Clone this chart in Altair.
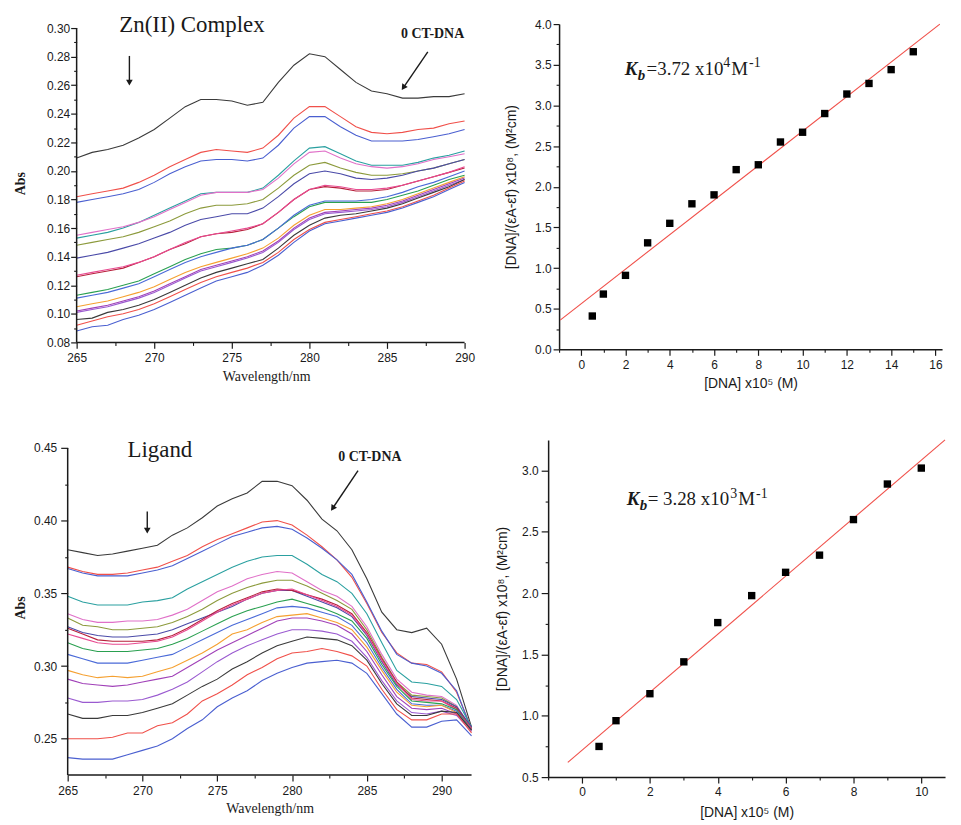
import altair as alt
import pandas as pd

# ---------------- data ----------------
ZN_WAVELENGTH = list(range(265, 291))
ZN_SPECTRA = [
    [0.209, 0.213, 0.215, 0.218, 0.223, 0.229, 0.237, 0.245, 0.250, 0.250, 0.249, 0.246, 0.248, 0.262, 0.274, 0.282, 0.280, 0.271, 0.262, 0.256, 0.254, 0.251, 0.251, 0.252, 0.252, 0.254],
    [0.182, 0.184, 0.186, 0.188, 0.192, 0.197, 0.203, 0.208, 0.213, 0.215, 0.214, 0.213, 0.216, 0.225, 0.237, 0.245, 0.245, 0.238, 0.231, 0.227, 0.226, 0.227, 0.229, 0.230, 0.233, 0.235],
    [0.178, 0.180, 0.182, 0.184, 0.187, 0.192, 0.198, 0.203, 0.207, 0.208, 0.208, 0.207, 0.209, 0.218, 0.230, 0.238, 0.238, 0.231, 0.225, 0.221, 0.221, 0.221, 0.222, 0.224, 0.226, 0.229],
    [0.153, 0.155, 0.157, 0.160, 0.164, 0.169, 0.174, 0.179, 0.184, 0.185, 0.185, 0.185, 0.188, 0.197, 0.207, 0.216, 0.217, 0.212, 0.207, 0.204, 0.204, 0.204, 0.206, 0.209, 0.211, 0.214],
    [0.155, 0.157, 0.159, 0.161, 0.164, 0.168, 0.173, 0.178, 0.183, 0.185, 0.185, 0.185, 0.187, 0.195, 0.205, 0.213, 0.214, 0.209, 0.205, 0.203, 0.202, 0.203, 0.205, 0.208, 0.210, 0.212],
    [0.148, 0.150, 0.152, 0.154, 0.157, 0.161, 0.165, 0.170, 0.174, 0.176, 0.176, 0.177, 0.180, 0.188, 0.197, 0.204, 0.206, 0.202, 0.199, 0.197, 0.197, 0.198, 0.200, 0.202, 0.205, 0.208],
    [0.139, 0.141, 0.143, 0.146, 0.149, 0.153, 0.157, 0.162, 0.166, 0.168, 0.170, 0.170, 0.174, 0.182, 0.191, 0.198, 0.200, 0.198, 0.195, 0.194, 0.195, 0.197, 0.200, 0.202, 0.205, 0.208],
    [0.126, 0.128, 0.130, 0.132, 0.136, 0.140, 0.145, 0.149, 0.154, 0.156, 0.157, 0.159, 0.163, 0.171, 0.180, 0.187, 0.189, 0.188, 0.186, 0.186, 0.187, 0.190, 0.193, 0.196, 0.199, 0.202],
    [0.127, 0.129, 0.131, 0.133, 0.136, 0.140, 0.145, 0.150, 0.154, 0.156, 0.158, 0.160, 0.163, 0.171, 0.180, 0.187, 0.190, 0.189, 0.187, 0.187, 0.188, 0.190, 0.193, 0.196, 0.199, 0.203],
    [0.113, 0.115, 0.117, 0.120, 0.123, 0.128, 0.133, 0.138, 0.142, 0.145, 0.146, 0.148, 0.152, 0.160, 0.168, 0.175, 0.178, 0.178, 0.178, 0.178, 0.180, 0.183, 0.186, 0.190, 0.194, 0.197],
    [0.111, 0.113, 0.115, 0.118, 0.121, 0.126, 0.131, 0.136, 0.140, 0.143, 0.146, 0.148, 0.152, 0.160, 0.169, 0.176, 0.179, 0.179, 0.179, 0.180, 0.182, 0.185, 0.189, 0.192, 0.196, 0.200],
    [0.105, 0.107, 0.109, 0.112, 0.115, 0.119, 0.124, 0.129, 0.133, 0.136, 0.139, 0.142, 0.146, 0.153, 0.162, 0.169, 0.173, 0.173, 0.174, 0.175, 0.177, 0.180, 0.184, 0.188, 0.192, 0.196],
    [0.102, 0.104, 0.106, 0.109, 0.112, 0.116, 0.121, 0.126, 0.131, 0.134, 0.137, 0.140, 0.144, 0.151, 0.160, 0.167, 0.171, 0.172, 0.173, 0.174, 0.176, 0.179, 0.183, 0.187, 0.191, 0.195],
    [0.101, 0.103, 0.105, 0.108, 0.111, 0.115, 0.120, 0.125, 0.130, 0.133, 0.136, 0.139, 0.143, 0.150, 0.159, 0.166, 0.170, 0.171, 0.172, 0.173, 0.175, 0.178, 0.182, 0.186, 0.190, 0.194],
    [0.096, 0.097, 0.101, 0.103, 0.106, 0.110, 0.115, 0.120, 0.125, 0.129, 0.132, 0.135, 0.138, 0.146, 0.155, 0.162, 0.167, 0.169, 0.170, 0.172, 0.174, 0.177, 0.181, 0.185, 0.189, 0.194],
    [0.092, 0.095, 0.098, 0.100, 0.103, 0.107, 0.112, 0.117, 0.122, 0.126, 0.129, 0.132, 0.136, 0.143, 0.152, 0.159, 0.164, 0.166, 0.168, 0.170, 0.172, 0.175, 0.179, 0.183, 0.188, 0.193],
    [0.088, 0.091, 0.092, 0.096, 0.099, 0.103, 0.108, 0.113, 0.118, 0.123, 0.126, 0.129, 0.134, 0.141, 0.150, 0.158, 0.163, 0.165, 0.167, 0.169, 0.171, 0.174, 0.178, 0.182, 0.187, 0.192],
]

LIG_WAVELENGTH = list(range(265, 293))
LIG_SPECTRA = [
    [0.380, 0.378, 0.376, 0.377, 0.379, 0.381, 0.383, 0.390, 0.395, 0.402, 0.410, 0.415, 0.419, 0.427, 0.427, 0.424, 0.414, 0.401, 0.393, 0.380, 0.360, 0.337, 0.325, 0.323, 0.326, 0.315, 0.291, 0.258],
    [0.368, 0.365, 0.363, 0.363, 0.364, 0.366, 0.368, 0.372, 0.376, 0.382, 0.387, 0.391, 0.395, 0.399, 0.400, 0.397, 0.390, 0.382, 0.373, 0.361, 0.343, 0.323, 0.309, 0.302, 0.301, 0.296, 0.282, 0.257],
    [0.367, 0.364, 0.362, 0.362, 0.362, 0.364, 0.366, 0.369, 0.374, 0.379, 0.384, 0.389, 0.392, 0.395, 0.396, 0.394, 0.388, 0.381, 0.373, 0.363, 0.344, 0.324, 0.308, 0.302, 0.300, 0.295, 0.283, 0.256],
    [0.348, 0.344, 0.342, 0.342, 0.342, 0.344, 0.345, 0.347, 0.353, 0.358, 0.363, 0.368, 0.372, 0.375, 0.376, 0.376, 0.370, 0.363, 0.358, 0.350, 0.336, 0.316, 0.297, 0.289, 0.288, 0.286, 0.277, 0.258],
    [0.336, 0.332, 0.330, 0.330, 0.331, 0.331, 0.332, 0.335, 0.339, 0.345, 0.351, 0.355, 0.360, 0.363, 0.365, 0.364, 0.358, 0.352, 0.348, 0.341, 0.327, 0.308, 0.291, 0.282, 0.280, 0.279, 0.273, 0.257],
    [0.333, 0.328, 0.327, 0.325, 0.325, 0.326, 0.327, 0.330, 0.334, 0.339, 0.345, 0.350, 0.354, 0.357, 0.359, 0.359, 0.355, 0.350, 0.345, 0.339, 0.325, 0.306, 0.289, 0.280, 0.279, 0.278, 0.272, 0.257],
    [0.327, 0.323, 0.321, 0.320, 0.320, 0.321, 0.322, 0.325, 0.329, 0.333, 0.337, 0.341, 0.346, 0.350, 0.352, 0.352, 0.348, 0.344, 0.340, 0.334, 0.321, 0.303, 0.287, 0.279, 0.278, 0.277, 0.272, 0.258],
    [0.326, 0.322, 0.318, 0.317, 0.317, 0.317, 0.318, 0.321, 0.326, 0.332, 0.338, 0.343, 0.347, 0.351, 0.353, 0.352, 0.349, 0.346, 0.342, 0.336, 0.323, 0.305, 0.289, 0.278, 0.277, 0.276, 0.271, 0.257],
    [0.322, 0.319, 0.316, 0.315, 0.315, 0.316, 0.317, 0.320, 0.325, 0.331, 0.337, 0.342, 0.346, 0.350, 0.352, 0.353, 0.349, 0.345, 0.341, 0.335, 0.322, 0.304, 0.288, 0.277, 0.276, 0.276, 0.270, 0.257],
    [0.316, 0.312, 0.310, 0.310, 0.310, 0.311, 0.312, 0.315, 0.319, 0.324, 0.329, 0.334, 0.338, 0.341, 0.344, 0.346, 0.343, 0.340, 0.336, 0.331, 0.319, 0.301, 0.286, 0.276, 0.275, 0.274, 0.270, 0.256],
    [0.308, 0.305, 0.302, 0.302, 0.302, 0.304, 0.306, 0.308, 0.313, 0.318, 0.323, 0.328, 0.332, 0.336, 0.340, 0.341, 0.340, 0.337, 0.334, 0.328, 0.316, 0.299, 0.284, 0.274, 0.273, 0.273, 0.269, 0.256],
    [0.297, 0.294, 0.292, 0.293, 0.292, 0.293, 0.296, 0.299, 0.304, 0.309, 0.315, 0.322, 0.325, 0.330, 0.334, 0.335, 0.336, 0.333, 0.330, 0.325, 0.313, 0.297, 0.282, 0.273, 0.272, 0.273, 0.268, 0.256],
    [0.291, 0.288, 0.287, 0.286, 0.287, 0.289, 0.291, 0.293, 0.299, 0.305, 0.311, 0.316, 0.321, 0.326, 0.331, 0.333, 0.333, 0.331, 0.328, 0.322, 0.310, 0.294, 0.279, 0.271, 0.270, 0.271, 0.267, 0.256],
    [0.278, 0.275, 0.275, 0.276, 0.276, 0.277, 0.280, 0.284, 0.289, 0.296, 0.303, 0.309, 0.314, 0.318, 0.322, 0.325, 0.325, 0.324, 0.322, 0.317, 0.306, 0.290, 0.276, 0.268, 0.267, 0.269, 0.266, 0.255],
    [0.267, 0.264, 0.264, 0.266, 0.266, 0.268, 0.271, 0.274, 0.280, 0.286, 0.291, 0.298, 0.303, 0.309, 0.314, 0.317, 0.320, 0.319, 0.318, 0.314, 0.304, 0.288, 0.274, 0.266, 0.266, 0.269, 0.268, 0.256],
    [0.250, 0.250, 0.250, 0.251, 0.254, 0.254, 0.259, 0.261, 0.267, 0.276, 0.281, 0.287, 0.294, 0.299, 0.305, 0.309, 0.310, 0.312, 0.310, 0.307, 0.300, 0.284, 0.270, 0.263, 0.263, 0.267, 0.267, 0.254],
    [0.237, 0.236, 0.236, 0.236, 0.239, 0.242, 0.245, 0.250, 0.257, 0.263, 0.272, 0.278, 0.283, 0.290, 0.295, 0.299, 0.302, 0.303, 0.304, 0.302, 0.295, 0.281, 0.267, 0.258, 0.258, 0.262, 0.263, 0.252],
]

ZN_COLORS = ["#3a3a3a", "#f0504a", "#4a5fd0", "#2aa0a0", "#e070c8", "#8c9a3c",
             "#4a4aa8", "#b8203c", "#e84a90", "#2aa050", "#4a6ad8", "#f5a030",
             "#a040b8", "#9a5ad0", "#3a3a3a", "#f0504a", "#4a5fd0"]
LIG_COLORS = ["#3a3a3a", "#f0504a", "#4a5fd0", "#2aa0a0", "#e070c8", "#8c9a3c",
              "#e84a90", "#a8402c", "#4a4aa8", "#2aa050", "#4a6ad8", "#f5a030",
              "#a040b8", "#9a5ad0", "#3a3a3a", "#f0504a", "#4a5fd0"]

ZN_DNA = [0.5, 1, 2, 3, 4, 5, 6, 7, 8, 9, 10, 11, 12, 13, 14, 15]
ZN_RATIO = [0.41, 0.68, 0.91, 1.31, 1.55, 1.79, 1.90, 2.21, 2.27, 2.55, 2.67, 2.90, 3.14, 3.27, 3.44, 3.66]
ZN_FIT_X = [-0.95, 16.2]
ZN_FIT_Y = [0.36, 4.0]

LIG_DNA = [0.5, 1, 2, 3, 4, 5, 6, 7, 8, 9, 10]
LIG_RATIO = [0.75, 0.96, 1.18, 1.44, 1.76, 1.98, 2.17, 2.31, 2.60, 2.89, 3.02]
LIG_FIT_X = [-0.42, 10.7]
LIG_FIT_Y = [0.62, 3.25]

SANS = "Liberation Sans"
SERIF = "Liberation Serif"
INK = "#1a1a1a"


def major_axis(orient, values, fmt, title, title_font, title_weight="normal",
               tick=6, pad=3, tpad=6, domain=True, offset=0):
    return alt.Axis(
        orient=orient, values=values, format=fmt, title=title, grid=False,
        tickSize=tick, labelPadding=pad, titlePadding=tpad, domain=domain, offset=offset,
        labelFont=SANS, labelFontSize=12, labelColor=INK,
        titleFont=title_font, titleFontSize=14, titleFontWeight=title_weight,
        titleColor=INK, domainColor=INK, domainWidth=1.5, tickColor=INK, tickWidth=1.2,
        labelFlush=False, labelOverlap=False,
    )


def minor_axis(orient, values, offset=0):
    return alt.Axis(orient=orient, values=values, title=None, labels=False, domain=False,
                    grid=False, tickSize=3, tickColor=INK, tickWidth=1.1, offset=offset)


def spectra_panel(wl, curves, colors, xdom, ydom, frame, yoff, xmaj, xmin, ymaj, ymin,
                  width, height, ytpad, ypad, ytick, label, label_pos, ct_pos, arrow, down):
    names = [f"c{i:02d}" for i in range(len(curves))]
    rows = [{"wl": w, "abs": v, "s": names[i]} for i, c in enumerate(curves) for w, v in zip(wl, c)]
    df = pd.DataFrame(rows)
    xs = alt.Scale(domain=xdom, nice=False, zero=False)
    ys = alt.Scale(domain=ydom, nice=False, zero=False)
    lines = alt.Chart(df).mark_line(strokeWidth=1.1).encode(
        x=alt.X("wl:Q", scale=xs, axis=major_axis("bottom", xmaj, "d", "Wavelength/nm", SERIF,
                                                   pad=4, tpad=6, domain=False)),
        y=alt.Y("abs:Q", scale=ys, axis=major_axis("left", ymaj, ".2f", "Abs", SERIF,
                                                    title_weight="bold", tick=ytick, pad=ypad,
                                                    tpad=ytpad, domain=False, offset=yoff)),
        color=alt.Color("s:N", scale=alt.Scale(domain=names, range=colors), legend=None),
        order=alt.Order("wl:Q"),
    )
    minor = alt.Chart(df).mark_point(opacity=0).encode(
        x=alt.X("wl:Q", axis=minor_axis("bottom", xmin)),
        y=alt.Y("abs:Q", axis=minor_axis("left", ymin, yoff)),
    )
    nx = alt.X("wl:Q", axis=None)
    ny = alt.Y("abs:Q", axis=None)
    x0, x1, y0, y1 = frame
    frame_df = pd.DataFrame([
        {"wl": x0, "abs": y0, "wl2": x1, "abs2": y0},
        {"wl": x0, "abs": y0, "wl2": x0, "abs2": y1},
    ])
    axes_lines = alt.Chart(frame_df).mark_rule(strokeWidth=1.5, color=INK).encode(
        x=nx, y=ny, x2="wl2:Q", y2="abs2:Q")
    lab = alt.Chart(pd.DataFrame([{"wl": label_pos[0], "abs": label_pos[1], "t": label}])).mark_text(
        font=SERIF, fontSize=23, align="left", baseline="alphabetic", color=INK
    ).encode(x=nx, y=ny, text="t:N")
    ct = alt.Chart(pd.DataFrame([{"wl": ct_pos[0], "abs": ct_pos[1], "t": "0 CT-DNA"}])).mark_text(
        font=SERIF, fontSize=14, fontWeight="bold", align="left", baseline="alphabetic", color=INK
    ).encode(x=nx, y=ny, text="t:N")
    seg = pd.DataFrame([
        {"wl": arrow[0], "abs": arrow[1], "wl2": arrow[2], "abs2": arrow[3]},
        {"wl": down[0], "abs": down[1], "wl2": down[0], "abs2": down[2]},
    ])
    rules = alt.Chart(seg).mark_rule(strokeWidth=1.4, color=INK).encode(
        x=nx, y=ny, x2="wl2:Q", y2="abs2:Q")
    heads = pd.DataFrame([
        {"wl": arrow[2], "abs": arrow[3], "ang": arrow[4]},
        {"wl": down[0], "abs": down[2], "ang": 180},
    ])
    tips = alt.Chart(heads).mark_point(shape="triangle", filled=True, size=45, color=INK, opacity=1).encode(
        x=nx, y=ny, angle=alt.Angle("ang:Q", scale=None))
    return alt.layer(lines, minor, axes_lines, rules, tips, lab, ct).resolve_axis(
        x="independent", y="independent").properties(width=width, height=height)


def kb_layers(xpos, ypos, pieces, nx, ny):
    base = pd.DataFrame([{"c": xpos, "r": ypos}])
    out = []
    for t, dx, dy, fs, fw, st in pieces:
        out.append(alt.Chart(base).mark_text(
            text=t, dx=dx, dy=dy, font=SERIF, fontSize=fs, fontWeight=fw, fontStyle=st,
            align="left", baseline="alphabetic", color=INK
        ).encode(x=nx, y=ny))
    return out


def binding_panel(dna, ratio, fx, fy, xdom, ydom, xmaj, xmin, ymaj, ymin, width, height,
                  ytick, ypad, ytpad, xpad, xtpad, kb_pos, kb_pieces):
    pts = pd.DataFrame({"c": dna, "r": ratio})
    fit = pd.DataFrame({"c": fx, "r": fy})
    xs = alt.Scale(domain=xdom, nice=False, zero=False)
    ys = alt.Scale(domain=ydom, nice=False, zero=False)
    line = alt.Chart(fit).mark_line(color="#f0504a", strokeWidth=1.1).encode(
        x=alt.X("c:Q", scale=xs, axis=major_axis("bottom", xmaj, "d", "[DNA] x10\u2075 (M)", SANS,
                                                  pad=xpad, tpad=xtpad)),
        y=alt.Y("r:Q", scale=ys, axis=major_axis("left", ymaj, ".1f",
                                                  "[DNA]/(\u03b5A-\u03b5f) x10\u2078, (M\u00b2cm)", SANS,
                                                  tick=ytick, pad=ypad, tpad=ytpad)),
    )
    minor = alt.Chart(pts).mark_point(opacity=0).encode(
        x=alt.X("c:Q", axis=minor_axis("bottom", xmin)),
        y=alt.Y("r:Q", axis=minor_axis("left", ymin)),
    )
    nx = alt.X("c:Q", axis=None)
    ny = alt.Y("r:Q", axis=None)
    sq = alt.Chart(pts).mark_point(shape="square", filled=True, size=55, color="#000000", opacity=1).encode(
        x=nx, y=ny)
    layers = [line, minor, sq] + kb_layers(kb_pos[0], kb_pos[1], kb_pieces, nx, ny)
    return alt.layer(*layers).resolve_axis(x="independent", y="independent").properties(
        width=width, height=height)


KB_ZN = [("K", 0, 0, 19, "bold", "italic"), ("b", 13, 5, 15, "bold", "italic"),
         ("=3.72 x10", 22, 0, 19, "normal", "normal"), ("4", 99, -8, 14, "normal", "normal"),
         ("M", 107, 0, 19, "normal", "normal"), ("-1", 125, -8, 14, "normal", "normal")]
KB_LIG = [("K", 0, 0, 19, "bold", "italic"), ("b", 13, 5, 15, "bold", "italic"),
          ("= 3.28 x10", 21, 0, 19, "normal", "normal"), ("3", 104, -8, 14, "normal", "normal"),
          ("M", 112, 0, 19, "normal", "normal"), ("-1", 130, -8, 14, "normal", "normal")]

tl = spectra_panel(
    ZN_WAVELENGTH, ZN_SPECTRA, ZN_COLORS, [264.423, 290], [0.08, 0.3028], (265, 290, 0.08, 0.30), -9,
    [265, 270, 275, 280, 285, 290], [267.5, 272.5, 277.5, 282.5, 287.5],
    [round(0.08 + 0.02 * i, 2) for i in range(12)], [round(0.09 + 0.02 * i, 2) for i in range(11)],
    399, 320, 19, 1, 6,
    "Zn(II) Complex", (267.75, 0.2972), (285.9, 0.293),
    (287.63, 0.2833, 286.09, 0.2589, 214), (268.4, 0.2805, 0.2625))

bl = spectra_panel(
    LIG_WAVELENGTH, LIG_SPECTRA, LIG_COLORS, [265, 292], [0.225, 0.4555], (265, 292, 0.225, 0.45), 0,
    [265, 270, 275, 280, 285, 290], [267.5, 272.5, 277.5, 282.5, 287.5],
    [0.25, 0.30, 0.35, 0.40, 0.45], [0.275, 0.325, 0.375, 0.425],
    406, 337, 6, 4, 7,
    "Ligand", (269.0, 0.4439), (283.09, 0.4411),
    (284.41, 0.4343, 282.75, 0.4090, 214), (270.32, 0.4063, 0.3938))

tr = binding_panel(
    ZN_DNA, ZN_RATIO, ZN_FIT_X, ZN_FIT_Y, [-1, 16.3], [0, 4],
    list(range(0, 17, 2)), list(range(-1, 16, 2)),
    [0.5 * i for i in range(9)], [0.25 + 0.5 * i for i in range(8)],
    385, 327, 6, 2, 16, 4, 6,
    (1.965, 3.376), KB_ZN)

br = binding_panel(
    LIG_DNA, LIG_RATIO, LIG_FIT_X, LIG_FIT_Y, [-1, 10.7], [0.5, 3.25],
    list(range(0, 11, 2)), list(range(-1, 10, 2)),
    [0.5 + 0.5 * i for i in range(6)], [0.75 + 0.5 * i for i in range(5)],
    399, 339, 7, 3, 12, 3, 9,
    (1.317, 2.715), KB_LIG)

top = alt.hconcat(tl, tr, spacing=29)
bottom = alt.hconcat(bl, br, spacing=21)
chart = alt.vconcat(top, bottom, spacing=47).configure_view(stroke=None).properties(
    background="white", padding={"left": 5, "top": 4, "right": 5, "bottom": 5})

chart.save("out.html", embed_options={"renderer": "svg", "actions": False})
